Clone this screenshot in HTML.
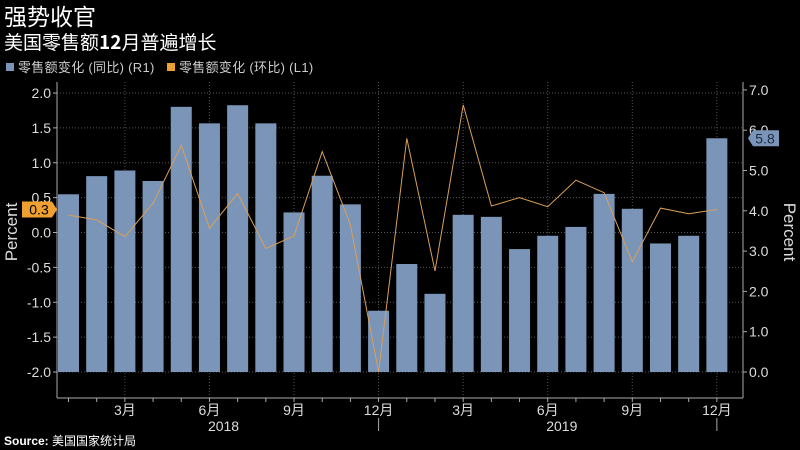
<!DOCTYPE html>
<html><head><meta charset="utf-8">
<style>
html,body{margin:0;padding:0;background:#000;}
svg{display:block;font-family:"Liberation Sans","Noto Sans CJK SC",sans-serif;}
</style></head>
<body>
<svg id="chart" width="800" height="450" viewBox="0 0 800 450" xmlns="http://www.w3.org/2000/svg">
<rect width="800" height="450" fill="#000"/>
<text x="4" y="25" fill="#fff" font-size="23" font-family="Noto Sans CJK SC, sans-serif">强势收官</text>
<text x="4" y="49" fill="#fff" font-size="19" font-family="Noto Sans CJK SC, sans-serif">美国零售额<tspan font-weight="bold">12</tspan>月普遍增长</text>
<g font-size="13" fill="#ccc">
<rect x="6" y="63" width="8" height="8" fill="#7b95b8"/>
<text x="18" y="72" letter-spacing="0.3">零售额变化 (同比) (R1)</text>
<rect x="167" y="63" width="8" height="8" fill="#f0a030"/>
<text x="179" y="72" letter-spacing="0.3">零售额变化 (环比) (L1)</text>
</g>
<g id="grid"></g>
<g id="bars"></g>
<g id="line"></g>
<g id="axes"></g>
<text x="4" y="445" fill="#fff" font-size="12"><tspan font-weight="bold">Source:</tspan> 美国国家统计局</text>
</svg>
<script>
const months = ["1月","2月","3月","4月","5月","6月","7月","8月","9月","10月","11月","12月","1月","2月","3月","4月","5月","6月","7月","8月","9月","10月","11月","12月"];
const yoyValues = [4.41,4.86,5.0,4.74,6.58,6.17,6.62,6.17,3.96,4.87,4.16,1.52,2.68,1.94,3.9,3.85,3.05,3.38,3.6,4.42,4.05,3.19,3.38,5.8];
const momValues = [0.25,0.18,-0.06,0.42,1.25,0.06,0.56,-0.23,-0.05,1.16,0.11,-2.0,1.35,-0.55,1.83,0.38,0.5,0.37,0.75,0.57,-0.42,0.35,0.27,0.33];
const leftTicks = [2.0,1.5,1.0,0.5,0.0,-0.5,-1.0,-1.5,-2.0];
const rightTicks = [7.0,6.0,5.0,4.0,3.0,2.0,1.0,0.0];
const years = ["2018","2019"];

const NS="http://www.w3.org/2000/svg";
const X0=57, X1=743, YB=398, YT=82;
const xPos=i=>68.5+i*28.19;
const yL=v=>93+(2-v)*69.75;
const yR=v=>372-v*40.3;
function mk(tag,attrs,parent){const e=document.createElementNS(NS,tag);for(const k in attrs)e.setAttribute(k,attrs[k]);document.getElementById(parent).appendChild(e);return e;}

leftTicks.forEach(t=>{
  const g=mk('line',{x1:X0,x2:X1,y1:yL(t),y2:yL(t),stroke:'#555','stroke-dasharray':'1,2','stroke-width':1},'grid');
  
  
});
months.forEach((m,i)=>{ if((i+1)%3===0){
  const g=mk('line',{x1:xPos(i),x2:xPos(i),y1:YT,y2:YB,stroke:'#555','stroke-dasharray':'1,2','stroke-width':1},'grid');
  
  
}});
yoyValues.forEach((v,i)=>{
  const b=mk('rect',{x:xPos(i)-10.5,y:yR(v),width:21,height:yR(0)-yR(v),fill:'#7b95b8'},'bars');
  
  
});
const pts=momValues.map((v,i)=>xPos(i).toFixed(1)+','+yL(v).toFixed(1)).join(' ');
const pl=mk('polyline',{points:pts,fill:'none',stroke:'#d9a05a','stroke-width':1},'line');


const ax=[[X0,YT,X0,YB],[X1,YT,X1,YB],[X0,YB,X1,YB]];
ax.forEach(a=>{const l=mk('line',{x1:a[0],y1:a[1],x2:a[2],y2:a[3],stroke:'#aaa','stroke-width':1},'axes');
  
  });
leftTicks.forEach(t=>{
  const tk=mk('line',{x1:X0-4,x2:X0,y1:yL(t),y2:yL(t),stroke:'#aaa'},'axes');
  
  
  const tx=mk('text',{x:X0-6,y:yL(t)+5,fill:'#ddd','font-size':14,'text-anchor':'end'},'axes');
  tx.textContent=t.toFixed(1);
  
  
});
rightTicks.forEach(t=>{
  const tk=mk('line',{x1:X1,x2:X1+4,y1:yR(t),y2:yR(t),stroke:'#aaa'},'axes');
  
  
  const tx=mk('text',{x:X1+6,y:yR(t)+5,fill:'#ddd','font-size':14},'axes');
  tx.textContent=t.toFixed(1);
  
  
});
months.forEach((m,i)=>{
  const tk=mk('line',{x1:xPos(i),x2:xPos(i),y1:YB,y2:YB+4,stroke:'#aaa'},'axes');
  
  
  if((i+1)%3===0){
    const tx=mk('text',{x:xPos(i),y:YB+17,fill:'#ddd','font-size':14,'text-anchor':'middle'},'axes');
    tx.textContent=m;
    
    
  }
});
[11,23].forEach(i=>{
  const d=mk('line',{x1:xPos(i),x2:xPos(i),y1:YB+20,y2:YB+33,stroke:'#aaa'},'axes');
  
  
});
years.forEach((y,k)=>{
  const tx=mk('text',{x:(xPos(k*12)+xPos(k*12+11))/2,y:YB+33,fill:'#ddd','font-size':14,'text-anchor':'middle'},'axes');
  tx.textContent=y;
  
  
});
const lt=mk('text',{x:0,y:0,fill:'#ddd','font-size':17,'text-anchor':'middle',transform:'translate(17,232) rotate(-90)'},'axes');
lt.textContent='Percent';


const rt=mk('text',{x:0,y:0,fill:'#ddd','font-size':17,'text-anchor':'middle',transform:'translate(784,232) rotate(90)'},'axes');
rt.textContent='Percent';


const lv=momValues[momValues.length-1], ly=yL(lv);
const lb=mk('path',{d:`M22 ${ly-8} H52 L57 ${ly} L52 ${ly+8} H22 Z`,fill:'#f0a030'},'axes');


const lbt=mk('text',{x:39,y:ly+5,fill:'#000','font-size':14,'text-anchor':'middle'},'axes');
lbt.textContent=lv.toFixed(1);


const rv=yoyValues[yoyValues.length-1], ry=yR(rv);
const rb=mk('path',{d:`M748 ${ry} L753 ${ry-8} H779 V${ry+8} H753 Z`,fill:'#7b95b8'},'axes');


const rbt=mk('text',{x:765,y:ry+5,fill:'#1a2a44','font-size':14,'text-anchor':'middle'},'axes');
rbt.textContent=rv.toFixed(1);


</script>
</body></html>
